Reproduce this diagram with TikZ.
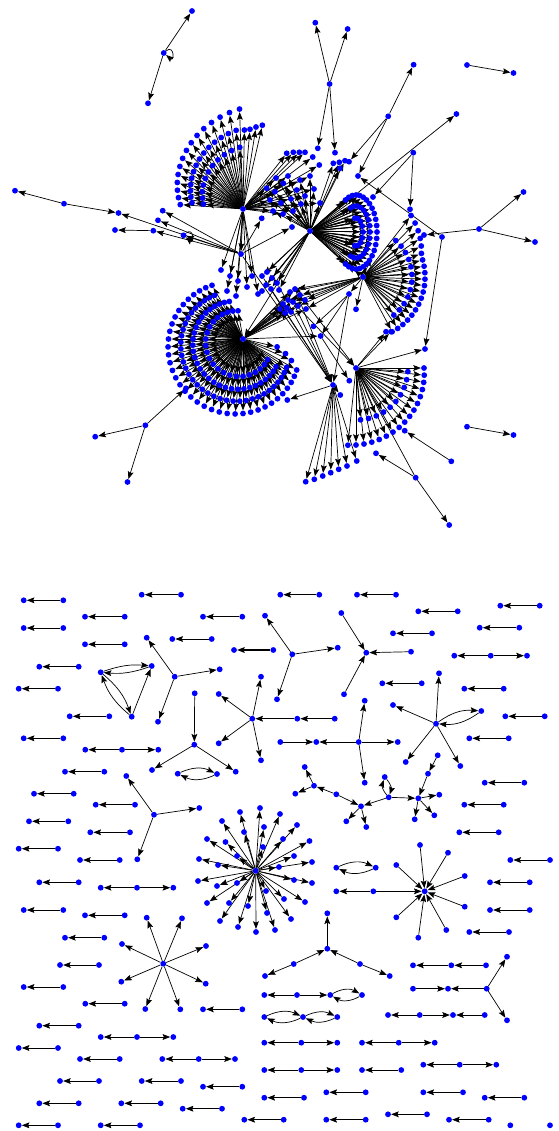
\documentclass[tikz,border=0pt]{standalone}
\usetikzlibrary{arrows.meta}
\pgfdeclarelayer{bg}
\pgfsetlayers{bg,main}
\newcommand\edg[3][]{\draw[e,#1] (#2) to (#3);}
\begin{document}
\begin{tikzpicture}[x=1pt,y=-1pt,
  v/.style={circle,fill=blue,draw=none,inner sep=0pt,minimum size=5.8pt},
  e/.style={-{Stealth[length=7.6pt,width=5.8pt,inset=1.3pt]},line width=0.7pt,draw=black},
  selfloop/.style={out=40,in=-40,looseness=7,min distance=7pt}]
\useasboundingbox (0,0) rectangle (558,1131);

%================ NODES: TOP COMPONENT ================
\foreach \n/\x/\y in {L1/163.7/53,L1a/192/11,L1b/148/103.3,
  T1/329.6/84,T1a/315.3/22.7,T1b/347.6/29,T1c/317.8/148.3,T1d/335/152.7,
  U/388.2/116.3,W/358/176,Ua/413.6/64.7,Ub/349/161.7,
  R1/467/65,R2/513.5/73,R3/467/426.7,R4/513.5/435,
  V/413.3/152.7,Va/410/209.3,Vb/373/197,
  P1/479/229,P1a/523.5/192,P1b/535/242,P1c/424/235,P2/442/237,P2a/425/349,Z/456.4/114,
  K0/15/190.7,K1a/64/203.7,K1b/118.5/213,
  M1/162.7/210.7,M2/158/220.3,M3/153.3/230.7,M4/115/230,M5/183.5/235.3,
  FA/243/209,G/241/254,HB/310/231,FC/363/277,D/243/339,FE/356/368,FF/333/385,
  Ga/261.7/218.3,Gb/221/270,Gc/292/227,
  Ka/349/294,Kb/313.5/326.3,Kc/320.6/336,Kd/349.3/380.7,Kf/356/309.3,
  Fx1/386/331.7,Fx2/391/331.7,Ff1/287.3/400,Ff2/340.3/395,
  LL/145.4/425.3,LLa/95.2/436.7,LLb/127.5/482,LLc/186/388.3,
  RR1/451.3/461.3,RR1a/404.7/430.7,RR2/415.7/477.7,RR2a/376/453.3,RR2b/449.2/525}{
  \node[v] (\n) at (\x,\y) {};}
\coordinate (LC) at (356,232);

% fan A
\foreach \t in {92,98,...,178}{
  \pgfmathsetmacro\r{62+38*(178-\t)/86}
  \path (FA) ++({\r*cos(\t)},{-\r*sin(\t)}) node[v] (fa\t) {};}
\foreach \t/\r in {77/86,81/83,85/80,89/79}{
  \path (FA) ++({\r*cos(\t)},{-\r*sin(\t)}) node[v] (fb\t) {};}
\foreach \t in {95,101,...,175}{
  \pgfmathsetmacro\r{0.8*(62+38*(178-\t)/86)}
  \path (FA) ++({\r*cos(\t)},{-\r*sin(\t)}) node[v] (fc\t) {};}
\foreach \t in {93,101,...,173}{
  \pgfmathsetmacro\r{0.62*(62+38*(178-\t)/86)}
  \path (FA) ++({\r*cos(\t)},{-\r*sin(\t)}) node[v] (fd\t) {};}
\foreach \x/\y [count=\k] in {286.7/153.3,293.3/152.3,299.3/152.3,305/152.3,312.7/157,319.3/165}{
  \node[v] (fu\k) at (\x,\y) {};}
\foreach \x/\y [count=\k] in {266.7/188.3,275/191.7,283.3/183.3,296.7/190,270/200,281/203,291/199,301/204,273/211,283/214,293/211,305/196,314/189,320/203,276/178,288/176,300/180,310/176}{
  \node[v] (h\k) at (\x,\y) {};}
\foreach \x/\y [count=\k] in {333.3/163.3,339.3/162.3,345/160.7,340/168.3}{
  \node[v] (ht\k) at (\x,\y) {};}
% lens
\foreach \t in {-120,-110,...,120}{
  \path (LC) ++({21*cos(\t)},{-37*sin(\t)}) node[v] (la\t) {};}
\foreach \t in {-112,-98,...,112}{
  \path (LC) ++({14*cos(\t)},{-26*sin(\t)}) node[v] (lb\t) {};}
\foreach \t in {-100,-75,...,100}{
  \path (LC) ++({7*cos(\t)},{-14*sin(\t)}) node[v] (lc\t) {};}
% clumps
\foreach \x/\y [count=\k] in {262/276,267/272,272/278,277/283,266/285,271/289,279/290,262/291}{
  \node[v] (ca\k) at (\x,\y) {};}
\foreach \x/\y [count=\k] in {290/292,295/289,300/295,305/300,293/302,298/306,306/309,288/300}{
  \node[v] (cb\k) at (\x,\y) {};}
\foreach \x/\y [count=\k] in {283/304,287/308,291/312,285/313,280/309}{
  \node[v] (cc\k) at (\x,\y) {};}
\foreach \x/\y [count=\k] in {230/276,238/281,247/287,227/291,236/296,252/276,258/294}{
  \node[v] (nn\k) at (\x,\y) {};}
% fan C
\foreach \t in {52,46,...,-62}{
  \pgfmathsetmacro\r{62+max(0,\t-20)*0.5}
  \path (FC) ++({\r*cos(\t)},{-\r*sin(\t)}) node[v] (fca\t) {};}
\foreach \t in {48,39,...,-57}{
  \path (FC) ++({49*cos(\t)},{-49*sin(\t)}) node[v] (fcb\t) {};}
% disk
\foreach \t in {120,126,...,330}{
  \pgfmathsetmacro\r{62+16*sin((\t-120)*6/7)}
  \path (D) ++({\r*cos(\t)},{-\r*sin(\t)}) node[v] (da\t) {};}
\foreach \t in {123,129,...,327}{
  \pgfmathsetmacro\r{0.83*(62+16*sin((\t-120)*6/7))}
  \path (D) ++({\r*cos(\t)},{-\r*sin(\t)}) node[v] (db\t) {};}
\foreach \t in {110,117,...,324}{
  \pgfmathsetmacro\r{0.67*(62+16*sin((\t-120)*6/7))}
  \path (D) ++({\r*cos(\t)},{-\r*sin(\t)}) node[v] (dc\t) {};}
\foreach \t in {100,110,...,320}{
  \pgfmathsetmacro\r{0.5*(62+16*sin((\t-120)*6/7))}
  \path (D) ++({\r*cos(\t)},{-\r*sin(\t)}) node[v] (dd\t) {};}
\foreach \t/\r in {336/53,341/45,347/35}{
  \path (D) ++({\r*cos(\t)},{-\r*sin(\t)}) node[v] (de\t) {};}
% fan E
\foreach \t in {0,-6,...,-96}{
  \pgfmathsetmacro\r{68-0.1*\t}
  \path (FE) ++({\r*cos(\t)},{-\r*sin(\t)}) node[v] (fea\t) {};}
\foreach \t in {-4,-13,...,-90}{
  \path (FE) ++({52*cos(\t)},{-52*sin(\t)}) node[v] (feb\t) {};}
% fan F
\foreach \x/\y [count=\k] in {305.7/481.7,314.3/479.3,322.7/476,330.7/472.7,338.7/469.3,347/466,356.7/461}{
  \node[v] (ff\k) at (\x,\y) {};}

%================ NODES: BOTTOM ================
\foreach \a/\b/\y [count=\k] in {23.7/63.3/600.3,141.7/181/594.7,85/124.7/616.7,203/242.3/616.7,23.7/63.3/628,85/124.7/644.3,172.3/211.7/639,39.3/78.7/666.7,18.7/58/688.7,69.7/109.3/716.3,23.7/63.3/738.3,65/104.3/771.7,34/73.7/793.7,95.7/135/804.7,29/68.3/821.3,90.3/130/832.3,18.7/58/848.7,80/119.7/860,39.3/78.7/882.3,23.7/63.3/910,85/124.7/915.3,65/104.3/937.7,60/99/965,23.7/63.3/987,85.3/124.7/1003.7,203/242.3/1009.3,39.3/78.7/1025.7,18.7/58/1048,80/119.7/1059,60/99/1081,141.7/181/1081,203/242.3/1086.7,39.3/78.7/1103.3,121.3/160.7/1103.3,182.7/222/1108.7,18.7/58/1125.3,100.7/140/1125.3,280.3/319.3/594.7,357/396/594.7,418.3/457.7/611.3,500.3/539.7/605.7,393/432/633.3,479.7/519.3/627.7,382.3/421.7/683.3,464.3/503.7/688.7,505.3/544.7/716.3,469.3/508.7/738.3,484.7/524.3/782.7,464.3/503.7/804.7,459.3/498.7/832.3,510.3/550/860,490/529.7/882.3,490/529.7/910,469.3/509/932,362/401.3/1070,264.3/304/1097.7,326.3/365.7/1092.3,423.3/463/1092.3,484.7/524.3/1097.7,244.3/283.7/1119.7,326.3/365.7/1119.7,388/427/1114.3,449/488.7/1119.7,510.3/550/1125.3}{
  \node[v] (pl\k) at (\a,\y) {};
  \node[v] (pr\k) at (\b,\y) {};}
\foreach \a/\b/\c/\y [count=\k] in {85.3/122/158.3/749.7,100.7/137/173.3/887.7,100.7/137/173.3/1037,162.3/198.7/235/1059,454.3/490.7/527/655.7,264.3/301.3/337.3/1042.7,362/398.7/434.7/1042.7,264.3/301.3/337.3/1070,423.3/459.7/496.3/1064.7,264.3/297/330.3/995}{
  \node[v] (qa\k) at (\a,\y) {};
  \node[v] (qb\k) at (\b,\y) {};
  \node[v] (qc\k) at (\c,\y) {};}
\foreach \n/\x/\y in {thl/234/650,thr/273.3/650,q10d/362/995,
  dl1/264.3/1017,dl2/303/1017,dl3/337.3/1017,
  lp1/177.7/773.7,lp2/217/774,lp3/336.3/867.7,lp4/375.7/867.7,
  TL/100.7/672.3,TR/151.7/666,TB/131.7/716.7,
  S1/174.7/676.7,S2a/194.7/693.3,S2/194.3/744.7,S3/252.3/718.7,S3b/297.3/718.7,S3c/334.7/718.7,
  S4/154/814.7,SA/292.3/654.3,SB/366.3/652.7,SC/436/723.7,sc5/481.3/711,
  ya/280.3/742,yb/316.3/742,yc/358.7/742,yd/397.7/742,ye/364.7/700.7,yf/364.7/782.7,
  ta/304.7/767,tb/314/785.7,tc/295.3/793.7,td/336.3/794.3,te/361/806.3,tf/346.3/821.3,tg/366.3/827,th/388.7/797.3,ti/384.7/777,tj/418.3/798.3,tk/428/773.7,tl/437.7/755.3,tm/439.3/794.7,tn/434.3/815.3,tq/414.7/819.3,
  BS/255.7/870.7,SD/163.3/963.7,SE/424.7/891.3,se9/373.3/891.3,se10/336.3/891.3,
  SF/327.3/948.7,sf1/327.3/913.3,sf2/293.7/964,sf3/265/976,sf4/360/964,sf5/389.7/976,
  ra1/413/965.3,ra2/451.3/965.3,ra3/486/965.3,
  rb1/413/988.7,rb2/448/988.7,rb3/486.7/988.7,rb4/507/956.7,rb5/507/1020.3,
  rc1/388/1015,rc2/419.7/1015,rc3/453/1015,rc4/484.7/1015}{
  \node[v] (\n) at (\x,\y) {};}
\foreach \x/\y [count=\k] in {146.7/637.7,219.7/669.3,158/721.7}{\node[v] (s1\k) at (\x,\y) {};}
\foreach \x/\y [count=\k] in {152/770,235.7/771.7}{\node[v] (s2\k) at (\x,\y) {};}
\foreach \x/\y [count=\k] in {218.7/694,261/676.7,218.7/743.3,261/760.3}{\node[v] (s3\k) at (\x,\y) {};}
\foreach \x/\y [count=\k] in {126.3/776,199.3/808,137.3/859.3}{\node[v] (s4\k) at (\x,\y) {};}
\foreach \x/\y [count=\k] in {265/615.7,337.7/647.7,277/699.3}{\node[v] (sa\k) at (\x,\y) {};}
\foreach \x/\y [count=\k] in {341.3/613,411/651.7,344/694.3}{\node[v] (sb\k) at (\x,\y) {};}
\foreach \x/\y [count=\k] in {439/673.3,393/705,405.7/762,460.3/766}{\node[v] (sc\k) at (\x,\y) {};}
\foreach \x/\y [count=\k] in {240/812,260/808,280/814,222/821,244/832,264/827,297/825,207/839,225.5/842,283/839,309.5/841,263/847,294/856,312/862,279/867,294/880,312/883,284/899,305/902,291/919,275/930,267/913,266/891,256/932,238/927,248/906,220/921,229/903,207/903,237/883,217/886,198/881,237/856,218/865,199/859}{\node[v] (bs\k) at (\x,\y) {};}
\foreach \x/\y [count=\k] in {146.7/917.7,182/918.3,122/944,206/946,121.3/981.7,205.7/983.7,145.3/1009,180.3/1009.3}{\node[v] (sd\k) at (\x,\y) {};}
\foreach \x/\y [count=\k] in {420/845,448/852.7,396.3/865,464.7/876,464.7/906.7,396.3/917.3,446.3/930,418.3/937.7}{\node[v] (se\k) at (\x,\y) {};}

%================ EDGES (behind nodes) ================
\begin{pgfonlayer}{bg}
% top small parts
\edg{L1}{L1a}\edg{L1}{L1b}\edg[selfloop]{L1}{L1}
\foreach \n in {T1a,T1b,T1c,T1d}{\edg{T1}{\n}}
\edg{U}{Ua}\edg{U}{Ub}\edg{U}{W}
\edg{R1}{R2}\edg{R3}{R4}
\edg{V}{Va}\edg{V}{Vb}
\foreach \n in {P1a,P1b,P1c}{\edg{P1}{\n}}
\edg{P2}{W}\edg{P2}{P2a}
\edg{K1a}{K0}\edg{K1a}{K1b}
\edg{M3}{M4}\edg[selfloop]{M5}{M5}
\foreach \n in {M1,M2,M3,M5,K1b,Ga,Gc}{\edg{G}{\n}}
\edg{FA}{Gb}\edg{FA}{G}\edg{HB}{Z}
% fan A
\foreach \t in {92,98,...,178}{\edg{FA}{fa\t}}
\foreach \t in {77,81,85,89}{\edg{FA}{fb\t}}
\foreach \t in {95,101,...,175}{\edg{FA}{fc\t}}
\foreach \t in {93,101,...,173}{\edg{FA}{fd\t}}
\foreach \k in {1,...,6}{\edg{FA}{fu\k}}
\foreach \k in {1,...,18}{\edg{FA}{h\k}\edg{HB}{h\k}}
\foreach \k in {1,...,4}{\edg{HB}{ht\k}}
% lens
\foreach \t in {-120,-110,...,120}{\edg{HB}{la\t}}
\foreach \t in {-112,-98,...,112}{\edg{HB}{lb\t}}
\foreach \t in {-100,-75,...,100}{\edg{HB}{lc\t}}
\foreach \t in {-120,-100,-80,-60,-40}{\edg{FC}{la\t}}
% clumps
\foreach \k in {1,...,8}{\edg{HB}{ca\k}\edg{FC}{cb\k}\edg{D}{cb\k}}
\foreach \k in {1,...,5}{\edg{D}{cc\k}}
\foreach \k in {1,...,7}{\edg{FA}{nn\k}}
\edg{HB}{D}
\foreach \k in {1,4,6}{\edg{ca\k}{FF}}
\foreach \k in {2,5}{\edg{cb\k}{FF}\edg{cb\k}{FE}}
\edg{G}{FF}
% fan C
\foreach \t in {52,46,...,-62}{\edg{FC}{fca\t}}
\foreach \t in {48,39,...,-57}{\edg{FC}{fcb\t}}
\edg{FC}{Ka}\edg{FC}{Kf}\edg{Ka}{Kb}\edg{Ka}{Kc}\edg{Kc}{Kd}\edg{D}{Kc}\edg{Ka}{FF}
% disk
\foreach \t in {120,126,...,330}{\edg{D}{da\t}}
\foreach \t in {123,129,...,327}{\edg{D}{db\t}}
\foreach \t in {110,117,...,324}{\edg{D}{dc\t}}
\foreach \t in {100,110,...,320}{\edg{D}{dd\t}}
\foreach \t in {336,341,347}{\edg{D}{de\t}}
% fan E, F
\foreach \t in {0,-6,...,-96}{\edg{FE}{fea\t}}
\foreach \t in {-4,-13,...,-90}{\edg{FE}{feb\t}}
\edg{FE}{Fx1}\edg{FE}{Fx2}\edg{FE}{P2a}
\foreach \k in {1,...,7}{\edg{FF}{ff\k}}
\edg{FF}{Ff1}\edg{FF}{Ff2}
\foreach \n in {LLa,LLb,LLc}{\edg{LL}{\n}}
\edg{RR1}{RR1a}\edg{RR2}{RR2a}\edg{RR2}{RR2b}\edg{RR2}{FE}

% bottom pairs
\foreach \k in {1,...,63}{\edg{pr\k}{pl\k}}
\edg[line width=1.3pt]{thr}{thl}
\foreach \k in {1,...,10}{\edg{qb\k}{qa\k}\edg{qb\k}{qc\k}}
\edg[bend left=30]{qc10}{q10d}\edg[bend left=30]{q10d}{qc10}
\edg[bend left=25]{dl1}{dl2}\edg[bend left=25]{dl2}{dl1}
\edg[bend left=25]{dl2}{dl3}\edg[bend left=25]{dl3}{dl2}
\edg[bend left=25]{lp1}{lp2}\edg[bend left=25]{lp2}{lp1}
\edg[bend left=25]{lp3}{lp4}\edg[bend left=25]{lp4}{lp3}
\edg[bend left=12]{TL}{TR}\edg[bend left=12]{TR}{TL}
\edg[bend left=15]{TL}{TB}\edg[bend left=15]{TB}{TL}
\edg{TB}{TR}
\foreach \k in {1,2,3}{\edg{S1}{s1\k}}
\edg{S2a}{S2}\edg{S2}{s21}\edg{S2}{s22}
\foreach \k in {1,...,4}{\edg{S3}{s3\k}}
\edg{S3b}{S3}\edg{S3c}{S3b}
\foreach \k in {1,2,3}{\edg{S4}{s4\k}\edg{SA}{sa\k}\edg{sb\k}{SB}}
\foreach \k in {1,...,4}{\edg{SC}{sc\k}}
\edg[bend left=20]{SC}{sc5}\edg[bend left=20]{sc5}{SC}
\edg{ya}{yb}\edg{yc}{yb}\edg{yc}{yd}\edg{yc}{ye}\edg{yc}{yf}
\edg{tb}{ta}\edg{tb}{tc}\edg{td}{tb}\edg{td}{te}\edg{te}{tf}\edg{te}{tg}\edg{th}{te}
\edg[bend left=30]{th}{ti}\edg[bend left=30]{ti}{th}
\edg{th}{tj}\edg{tk}{tj}\edg{tl}{tk}\edg{tj}{tm}\edg{tj}{tn}\edg{tj}{tq}
\foreach \k in {1,...,35}{\edg{BS}{bs\k}}
\foreach \k in {1,...,8}{\edg{SD}{sd\k}\edg{se\k}{SE}}
\edg{se9}{SE}\edg{se9}{se10}
\edg{SF}{sf1}\edg{sf2}{SF}\edg{sf2}{sf3}\edg{sf4}{SF}\edg{sf4}{sf5}
\edg{ra2}{ra1}\edg{ra3}{ra2}
\edg{rb1}{rb2}\edg{rb3}{rb2}\edg{rb3}{rb4}\edg{rb3}{rb5}
\edg{rc2}{rc1}\edg{rc2}{rc3}\edg{rc4}{rc3}
\end{pgfonlayer}
\end{tikzpicture}
\end{document}
